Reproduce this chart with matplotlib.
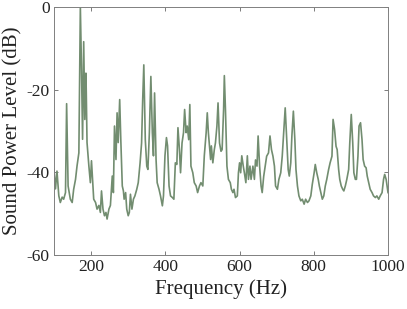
import matplotlib
matplotlib.use("Agg")
import matplotlib.pyplot as plt

# Spectrum, in five frequency bands
freq_a = [100, 104, 108, 113, 117, 122, 126, 131, 134, 138, 144, 149, 153, 158, 162,
          167, 171, 174, 177, 180, 183, 186, 187, 189, 194, 198, 201, 205, 207, 212,
          216, 221, 225, 228, 232, 236, 240, 243, 248, 252, 257, 260, 263, 267, 270,
          273, 277]
level_a = [-39.3, -44.0, -39.7, -45.7, -47.3, -46.0, -46.5, -44.9, -23.4, -43.3,
           -46.5, -47.3, -44.1, -41.7, -38.5, -35.3, 0.0, -14.4, -32.0, -8.4,
           -27.2, -16.0, -20.8, -32.8, -38.5, -42.5, -37.2, -43.3, -46.5, -47.3,
           -48.9, -48.0, -49.7, -44.5, -48.9, -50.5, -49.7, -51.3, -48.9, -48.0,
           -40.9, -44.9, -28.8, -36.9, -25.6, -32.8, -22.4]

freq_b = [280, 284, 287, 289, 293, 296, 300, 303, 306, 310, 314, 318, 323, 327, 332,
          336, 339, 342, 346, 350, 353, 357, 361, 365, 368, 371, 375, 378, 383, 387,
          392, 395, 399, 403, 406, 410, 414, 419, 423, 427, 431, 434, 438, 441, 445,
          449, 452, 456, 459, 463]
level_b = [-32.1, -43.3, -44.5, -46.5, -44.9, -48.9, -50.5, -49.7, -45.3, -48.9,
           -46.5, -45.7, -44.1, -42.5, -37.7, -32.9, -22.4, -14.0, -32.1, -38.5,
           -39.3, -30.4, -16.8, -30.4, -36.0, -20.8, -36.9, -42.5, -44.1, -45.7,
           -48.1, -45.7, -36.0, -31.6, -33.6, -43.3, -45.7, -46.1, -46.5, -37.7,
           -38.1, -29.2, -34.5, -40.1, -32.9, -30.4, -24.8, -30.4, -28.8, -32.1]

freq_c = [466, 469, 474, 478, 483, 487, 492, 496, 501, 505, 510, 513, 516, 519, 522,
          524, 528, 532, 535, 539, 542, 546, 550, 553, 557, 559, 562, 566, 570, 575,
          578, 582, 585, 589, 594, 597, 600, 603, 606, 610, 613, 617, 621, 624, 628,
          631, 636, 640]
level_c = [-23.6, -38.5, -40.1, -42.5, -43.3, -44.9, -43.3, -42.5, -43.3, -36.0,
           -30.4, -25.6, -30.4, -33.6, -36.9, -33.6, -37.7, -34.5, -32.9, -28.8,
           -23.2, -32.9, -34.9, -34.5, -24.8, -16.6, -24.8, -38.5, -41.7, -42.5,
           -44.1, -44.9, -44.1, -46.1, -45.7, -40.1, -37.7, -40.1, -36.0, -38.5,
           -40.1, -42.5, -36.0, -41.7, -38.5, -41.7, -38.5, -41.7]

freq_d = [643, 647, 650, 654, 658, 661, 665, 669, 673, 678, 682, 686, 690, 694, 697,
          702, 706, 711, 715, 719, 723, 727, 731, 734, 738, 741, 745, 749, 752, 756,
          760, 765, 769, 774, 778, 783, 787, 792, 796, 801, 804, 808, 812, 815, 819]
level_d = [-37.0, -38.5, -31.2, -38.5, -43.3, -44.9, -41.0, -38.5, -36.1, -35.3,
           -31.2, -34.5, -36.1, -38.5, -43.3, -44.1, -41.7, -40.1, -36.1, -30.4,
           -24.4, -32.1, -39.3, -40.9, -37.7, -31.2, -25.2, -32.1, -39.3, -43.3,
           -45.7, -46.9, -46.5, -47.7, -46.5, -47.3, -46.9, -45.7, -42.9, -40.1,
           -38.1, -40.1, -41.7, -43.3, -44.9]

freq_e = [823, 827, 831, 835, 840, 844, 849, 852, 856, 860, 863, 867, 870, 874, 878,
          881, 885, 889, 894, 897, 901, 905, 908, 912, 915, 919, 922, 926, 930, 933,
          937, 941, 944, 948, 952, 957, 961, 966, 970, 975, 979, 984, 988, 991, 995,
          1000]
level_e = [-46.5, -45.7, -43.3, -41.7, -39.3, -37.7, -36.1, -27.2, -29.6, -33.7,
           -34.5, -39.3, -41.7, -43.3, -44.1, -44.5, -43.3, -41.7, -39.3, -32.9,
           -26.0, -32.9, -40.1, -41.7, -41.7, -36.1, -28.8, -28.0, -32.1, -36.9,
           -38.5, -38.9, -40.9, -42.5, -44.1, -44.9, -45.7, -46.1, -45.7, -46.5,
           -45.7, -44.9, -41.7, -40.5, -41.7, -44.9]

x_ticks = [200, 400, 600, 800, 1000]
y_ticks = [-60, -40, -20, 0]

freq_hz = freq_a + freq_b + freq_c + freq_d + freq_e
level_db = level_a + level_b + level_c + level_d + level_e

plt.rcParams["font.family"] = ["Liberation Serif", "DejaVu Serif"]
plt.rcParams["axes.unicode_minus"] = False

fig = plt.figure(figsize=(4.07, 3.09), dpi=100)
ax = fig.add_axes([54 / 407, 1 - 255 / 309, 334 / 407, 248 / 309])
ax.plot(freq_hz, level_db, color="#728d70", lw=1.2)
ax.set_xlim(100, 1000)
ax.set_ylim(-60, 0)
ax.set_xticks(x_ticks)
ax.set_yticks(y_ticks)
ax.tick_params(direction="in", top=True, right=True, length=3, width=0.6,
               color="0.4", labelsize=12.5, pad=3, labelcolor="#222222")
for s in ax.spines.values():
    s.set_color("0.5")
    s.set_linewidth(0.7)
ax.set_xlabel("Frequency (Hz)", fontsize=15, labelpad=3, color="#222222")
ax.set_ylabel("Sound Power Level (dB)", fontsize=15, labelpad=3, color="#222222")
fig.savefig("out.png", dpi=100)
